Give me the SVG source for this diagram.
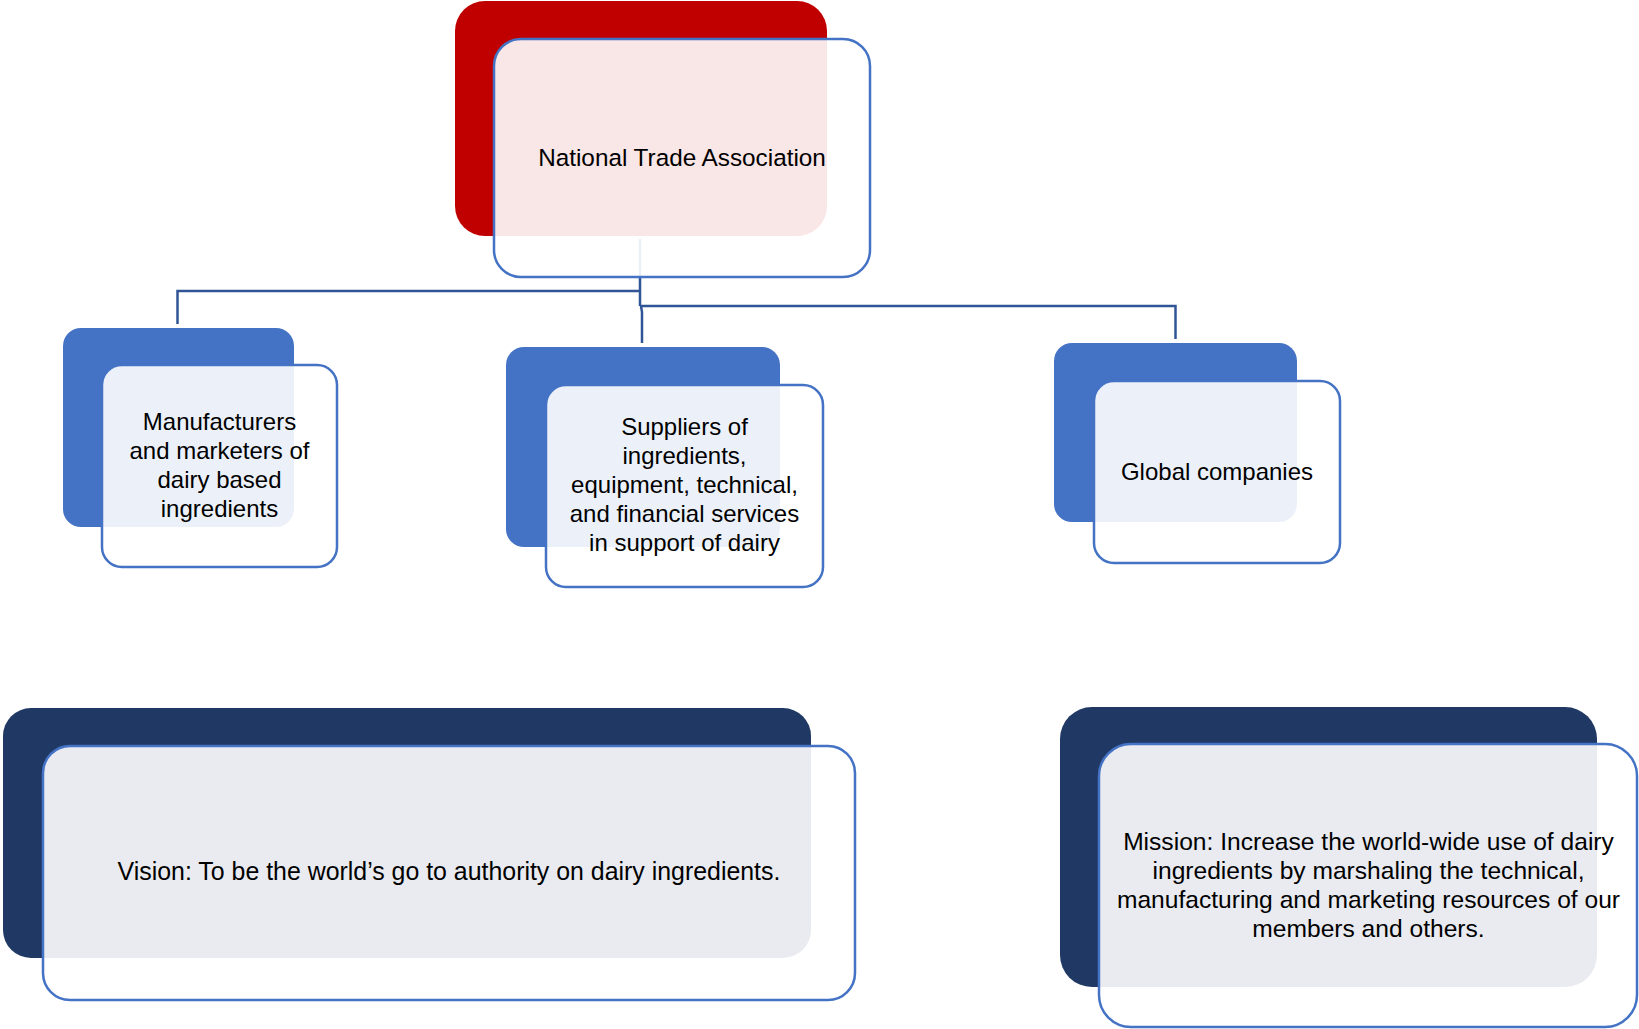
<svg xmlns="http://www.w3.org/2000/svg" width="1639" height="1029" viewBox="0 0 1639 1029">
<style>
.red{fill:#C00000}
.blue{fill:#4472C4}
.navy{fill:#203864}
.box{fill:#FFFFFF;fill-opacity:0.9;stroke:#4472C4;stroke-width:2.5}
.conn{fill:none;stroke:#2F5597;stroke-width:2.5}
text{font-family:"Liberation Sans",Arial,sans-serif;font-size:24px;fill:#000;text-anchor:middle}
.big{font-size:24.9px}
.mid{font-size:24.6px}
</style>
<rect width="1639" height="1029" fill="#FFFFFF"/>
<g id="connectors">
<path class="conn" d="M640,239 V306 M640,291 H177.5 V324 M640,306 H1175.5 V339 M641,306 L642,312 V343"/>
</g>
<g id="node-national">
<rect class="red" x="455" y="1" width="372" height="235" rx="30"/>
<rect class="box" x="494" y="39" width="376" height="238" rx="27"/>
<text class="mid" x="682" y="166" style="font-size:24.3px">National Trade Association</text>
</g>
<g id="node-manufacturers">
<rect class="blue" x="63" y="328" width="231" height="199" rx="18"/>
<rect class="box" x="102" y="365" width="235" height="202" rx="20"/>
<text x="219.5" y="430">Manufacturers</text>
<text x="219.5" y="459">and marketers of</text>
<text x="219.5" y="488">dairy based</text>
<text x="219.5" y="517">ingredients</text>
</g>
<g id="node-suppliers">
<rect class="blue" x="506" y="347" width="274" height="200" rx="18"/>
<rect class="box" x="546" y="385" width="277" height="202" rx="20"/>
<text x="684.5" y="435">Suppliers of</text>
<text x="684.5" y="464">ingredients,</text>
<text x="684.5" y="493">equipment, technical,</text>
<text x="684.5" y="522">and financial services</text>
<text x="684.5" y="551">in support of dairy</text>
</g>
<g id="node-global">
<rect class="blue" x="1054" y="343" width="243" height="179" rx="18"/>
<rect class="box" x="1094" y="381" width="246" height="182" rx="20"/>
<text x="1217" y="480">Global companies</text>
</g>
<g id="node-vision">
<rect class="navy" x="3" y="708" width="808" height="250" rx="28"/>
<rect class="box" x="43" y="746" width="812" height="254" rx="27"/>
<text class="big" x="449" y="880">Vision: To be the world’s go to authority on dairy ingredients.</text>
</g>
<g id="node-mission">
<rect class="navy" x="1060" y="707" width="537" height="280" rx="32"/>
<rect class="box" x="1099" y="744" width="538" height="283" rx="32"/>
<text class="mid" x="1368.5" y="850">Mission: Increase the world-wide use of dairy</text>
<text class="mid" x="1368.5" y="879">ingredients by marshaling the technical,</text>
<text class="mid" x="1368.5" y="908">manufacturing and marketing resources of our</text>
<text class="mid" x="1368.5" y="937">members and others.</text>
</g>
</svg>
